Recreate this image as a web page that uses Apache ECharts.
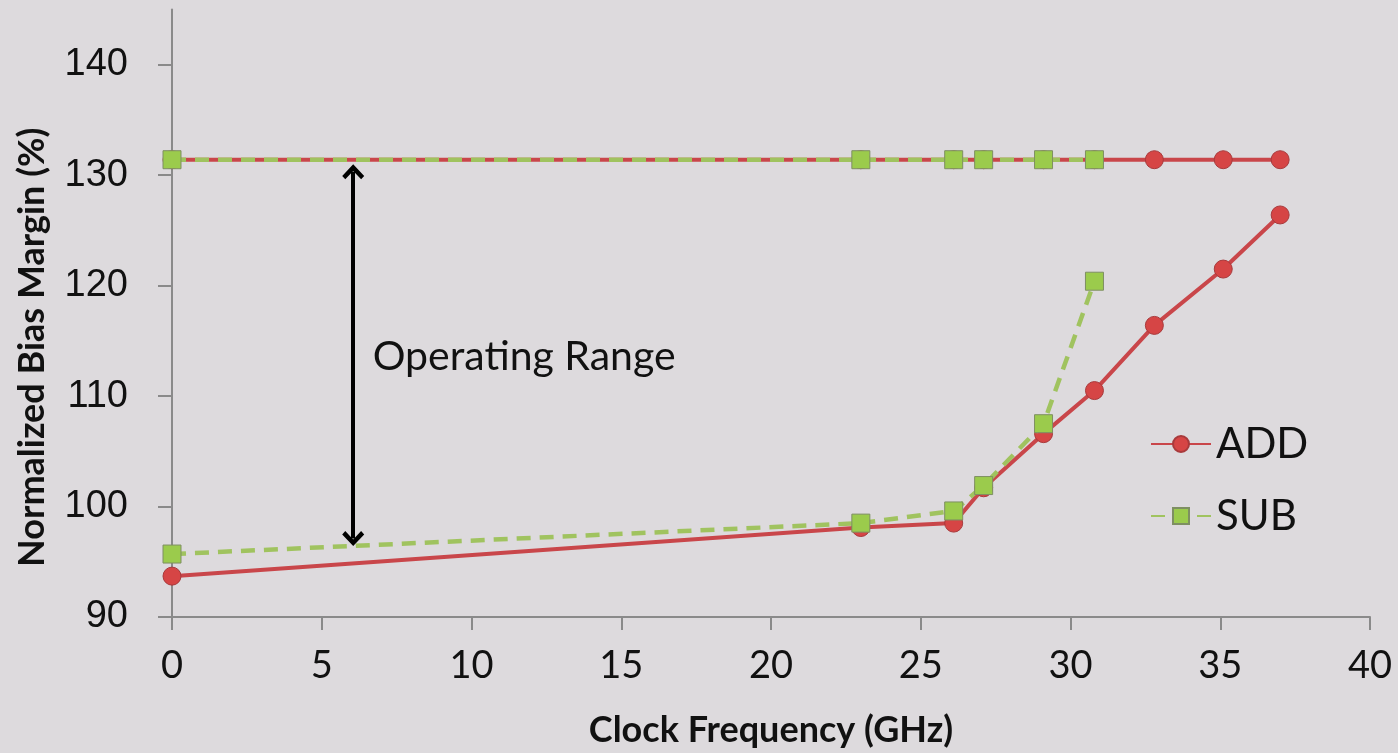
<!DOCTYPE html>
<html lang="en">
  <head>
    <meta charset="UTF-8" />
    <title>Bias margin vs clock frequency</title>
    <script src="https://cdn.jsdelivr.net/npm/echarts@6/dist/echarts.min.js"></script>
    <style>
      html, body { margin: 0; padding: 0; background: #dddadd; }
    </style>
  </head>
  <body>
    <div id="main" style="width: 1398px; height: 753px"></div>
    <script type="text/javascript">
      // values
      const addLowerX = [0, 23, 26.1, 27.1, 29.1, 30.8, 32.8, 35.1, 37];
      const addLowerY = [93.7, 98.1, 98.5, 101.7, 106.6, 110.5, 116.4, 121.5, 126.4];
      const addUpperX = [0, 23, 26.1, 27.1, 29.1, 30.8, 32.8, 35.1, 37];
      const addUpperY = [131.4, 131.4, 131.4, 131.4, 131.4, 131.4, 131.4, 131.4, 131.4];

      const subLowerX = [0, 23, 26.1, 27.1, 29.1, 30.8];
      const subLowerY = [95.7, 98.5, 99.6, 101.9, 107.5, 120.4];
      const subUpperX = [0, 23, 26.1, 27.1, 29.1, 30.8];
      const subUpperY = [131.4, 131.4, 131.4, 131.4, 131.4, 131.4];

      const xTicks = [0, 5, 10, 15, 20, 25, 30, 35, 40];
      const yTicks = [90, 100, 110, 120, 130, 140];

      // operating range arrow (x position, bottom, top)
      const arrowX = 6.05;
      const arrowFrom = 97.1;
      const arrowTo = 130.3;

      const pair = (xs, ys) => xs.map((x, i) => [x, ys[i]]);

      const addColor = "#d64545";
      const addBorder = "#a83a3c";
      const subColor = "#9bcb4c";
      const subBorder = "#7e8f62";
      const chevron = "path://M10,0 L20,10.5 L17.2,13.5 L10,6 L2.8,13.5 L0,10.5 Z";

      const addSeries = (data) => ({
        name: "ADD",
        type: "line",
        data: data,
        symbol: "circle",
        symbolSize: 18,
        z: 2,
        itemStyle: { color: addColor, borderColor: addBorder, borderWidth: 1 },
        lineStyle: { color: "#c9464a", width: 4 },
      });
      const subSeries = (data) => ({
        name: "SUB",
        type: "line",
        data: data,
        symbol: "rect",
        symbolSize: 18,
        z: 3,
        itemStyle: { color: subColor, borderColor: subBorder, borderWidth: 1 },
        lineStyle: { color: "#a0c35f", width: 4.5, type: [14, 9] },
      });

      let myChart = echarts.init(document.getElementById("main"));

      let options = {
        backgroundColor: "#dddadd",
        animation: false,
        grid: { left: 172, right: 28, top: 9.5, bottom: 133, containLabel: false },
        legend: {
          data: ["ADD", "SUB"],
          orient: "vertical",
          left: 1145,
          top: 418,
          itemWidth: 60,
          itemHeight: 20,
          itemGap: 30,
          textStyle: { fontFamily: "Lato", fontSize: 42, color: "#111" },
        },
        xAxis: {
          type: "value",
          min: 0,
          max: 40,
          interval: 5,
          name: "Clock Frequency (GHz)",
          nameLocation: "middle",
          nameGap: 95,
          nameTextStyle: { fontFamily: "Lato", fontWeight: "bold", fontSize: 36, color: "#111" },
          axisLine: { lineStyle: { color: "#8a8a8a", width: 2 } },
          axisTick: { show: true, length: 13, customValues: xTicks, lineStyle: { color: "#8a8a8a", width: 2 } },
          axisLabel: { margin: 30, customValues: xTicks, fontFamily: "Lato", fontSize: 38, color: "#111" },
          splitLine: { show: false },
        },
        yAxis: {
          type: "value",
          min: 90,
          max: 145,
          interval: 10,
          name: "Normalized Bias Margin (%)",
          nameLocation: "middle",
          nameGap: 122,
          nameTextStyle: {
            fontFamily: "Lato",
            fontWeight: "bold",
            fontSize: 36,
            color: "#111",
            padding: [0, 68, 0, 0],
          },
          axisLine: { show: true, lineStyle: { color: "#8a8a8a", width: 2 } },
          axisTick: { show: true, length: 14, customValues: yTicks, lineStyle: { color: "#8a8a8a", width: 2 } },
          axisLabel: {
            margin: 44,
            customValues: yTicks,
            fontFamily: "Liberation Sans",
            fontSize: 38,
            color: "#111",
          },
          splitLine: { show: false },
        },
        series: [
          addSeries(pair(addLowerX, addLowerY)),
          addSeries(pair(addUpperX, addUpperY)),
          subSeries(pair(subLowerX, subLowerY)),
          subSeries(pair(subUpperX, subUpperY)),
          {
            name: "range",
            type: "line",
            data: [],
            silent: true,
            markLine: {
              silent: true,
              symbol: [chevron, chevron],
              symbolSize: [22, 15],
              label: { show: false },
              lineStyle: { color: "#000", width: 4, type: "solid", opacity: 1 },
              data: [[{ coord: [arrowX, arrowFrom] }, { coord: [arrowX, arrowTo] }]],
            },
            markPoint: {
              silent: true,
              symbolSize: 0,
              label: {
                show: true,
                position: "right",
                distance: 0,
                formatter: "Operating Range",
                fontFamily: "Lato",
                fontSize: 41,
                color: "#111",
              },
              data: [{ coord: [6.7, 113.6] }],
            },
          },
        ],
      };

      myChart.setOption(options);
    </script>
  </body>
</html>
